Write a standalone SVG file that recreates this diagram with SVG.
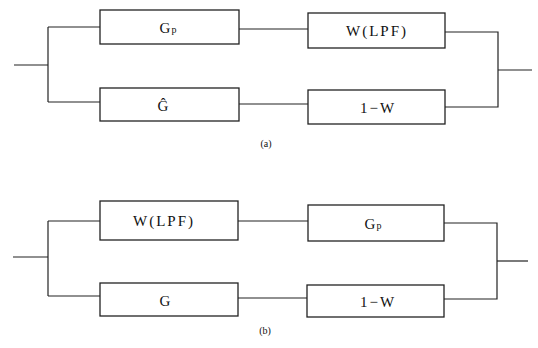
<svg xmlns="http://www.w3.org/2000/svg" width="538" height="348" viewBox="0 0 538 348">
  <style>
    .box { fill: none; stroke: #222; stroke-width: 1.3; }
    .wire { fill: none; stroke: #222; stroke-width: 1.2; }
    .lbl { font-family: "Liberation Serif", serif; font-size: 15px; fill: #111; text-anchor: middle; }
    .wide { letter-spacing: 2px; }
    .cap { font-family: "Liberation Serif", serif; font-size: 10px; fill: #111; text-anchor: middle; }
  </style>
  <rect width="538" height="348" fill="#fff"/>

  <!-- (a): parallel paths Gp → W(LPF) and Ĝ → 1−W -->
  <g id="a-gp"><rect class="box" x="100" y="10" width="139" height="34"/>
    <text class="lbl" x="168" y="33">G<tspan font-size="10" dx="1">p</tspan></text></g>
  <g id="a-w"><rect class="box" x="308" y="13" width="137" height="35"/>
    <text class="lbl wide" x="377" y="36">W(LPF)</text></g>
  <g id="a-ghat"><rect class="box" x="100" y="88" width="139" height="33"/>
    <text class="lbl" x="163" y="111">Ĝ</text></g>
  <g id="a-1w"><rect class="box" x="308" y="90" width="137" height="34"/>
    <text class="lbl wide" x="378" y="113">1−W</text></g>
  <text id="cap-a" class="cap" x="266" y="147">(a)</text>

  <!-- (b): parallel paths W(LPF) → Gp and G → 1−W -->
  <g id="b-w"><rect class="box" x="100" y="201" width="138" height="39"/>
    <text class="lbl wide" x="164" y="226">W(LPF)</text></g>
  <g id="b-gp"><rect class="box" x="308" y="205" width="136" height="36"/>
    <text class="lbl" x="373" y="229">G<tspan font-size="10" dx="1">p</tspan></text></g>
  <g id="b-g"><rect class="box" x="100" y="283" width="138" height="33"/>
    <text class="lbl" x="165" y="306">G</text></g>
  <g id="b-1w"><rect class="box" x="307" y="285" width="137" height="32"/>
    <text class="lbl wide" x="378" y="307">1−W</text></g>
  <text id="cap-b" class="cap" x="265" y="334">(b)</text>

  <g id="connectors">
    <!-- (a) -->
    <path class="wire" d="M14 65 H48"/>
    <path class="wire" d="M48 27 V102"/>
    <path class="wire" d="M48 27 H100"/>
    <path class="wire" d="M48 102 H100"/>
    <path class="wire" d="M239 29 H308"/>
    <path class="wire" d="M239 104 H308"/>
    <path class="wire" d="M445 32 H498 V107 H445"/>
    <path class="wire" d="M498 70 H532"/>
    <!-- (b) -->
    <path class="wire" d="M13 257 H48"/>
    <path class="wire" d="M48 221 V296"/>
    <path class="wire" d="M48 221 H100"/>
    <path class="wire" d="M48 296 H100"/>
    <path class="wire" d="M238 221 H308"/>
    <path class="wire" d="M238 298 H307"/>
    <path class="wire" d="M444 223 H497 V299 H444"/>
    <path class="wire" d="M497 261 H528"/>
  </g>
</svg>
